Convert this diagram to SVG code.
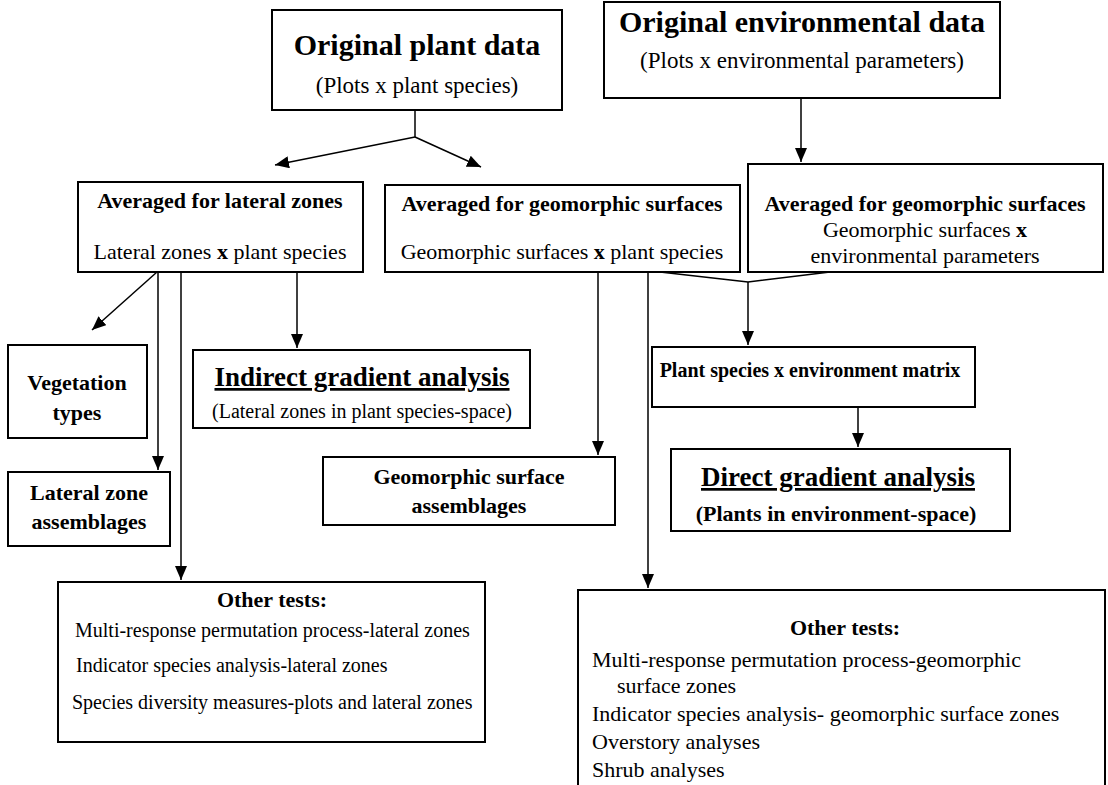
<svg xmlns="http://www.w3.org/2000/svg" width="1108" height="785" viewBox="0 0 1108 785">
<style>
.box{fill:#fff;stroke:#000;stroke-width:2}
text{font-family:"Liberation Serif","Times New Roman",serif;fill:#000}
.t1{font-size:30px;font-weight:bold}
.s1{font-size:23px}
.b{font-size:22px;font-weight:bold}
.r{font-size:22px}
.r2{font-size:20px}
.u{font-size:27px;font-weight:bold;text-decoration:underline}
.c{text-anchor:middle}
.ln{fill:none;stroke:#000;stroke-width:1.5}
</style>
<defs>
<marker id="ah" viewBox="0 0 14 12" refX="14" refY="6" markerWidth="14" markerHeight="12" markerUnits="userSpaceOnUse" orient="auto">
<path d="M0,0 L14,6 L0,12 z" fill="#000"/>
</marker>
</defs>
<rect width="1108" height="785" fill="#fff"/>
<g id="connectors">
<path class="ln" d="M415,110 V137"/>
<path class="ln" d="M415,137 L275,165" marker-end="url(#ah)"/>
<path class="ln" d="M415,137 L481,167" marker-end="url(#ah)"/>
<path class="ln" d="M801,98 V162" marker-end="url(#ah)"/>
<path class="ln" d="M157,272 L92,330" marker-end="url(#ah)"/>
<path class="ln" d="M158,272 V470" marker-end="url(#ah)"/>
<path class="ln" d="M181,272 V580" marker-end="url(#ah)"/>
<path class="ln" d="M297,272 V348" marker-end="url(#ah)"/>
<path class="ln" d="M598,272 V455" marker-end="url(#ah)"/>
<path class="ln" d="M648,272 V588" marker-end="url(#ah)"/>
<path class="ln" d="M660,272 L748,282 L830,272"/>
<path class="ln" d="M748,282 V345" marker-end="url(#ah)"/>
<path class="ln" d="M858,407 V447" marker-end="url(#ah)"/>
</g>
<g id="original-plant">
<rect class="box" x="272" y="10" width="290" height="100"/>
<text class="t1 c" x="417" y="55">Original plant data</text>
<text class="s1 c" x="417" y="93">(Plots x plant species)</text>
</g>
<g id="original-env">
<rect class="box" x="604" y="2" width="396" height="96"/>
<text class="t1 c" x="802" y="32">Original environmental data</text>
<text class="s1 c" x="802" y="68">(Plots x environmental parameters)</text>
</g>
<g id="avg-lateral">
<rect class="box" x="78" y="182" width="285" height="90"/>
<text class="b c" x="220" y="208">Averaged for lateral zones</text>
<text class="r c" x="220" y="259">Lateral zones <tspan font-weight="bold">x</tspan> plant species</text>
</g>
<g id="avg-geo-plant">
<rect class="box" x="385" y="185" width="355" height="87"/>
<text class="b c" x="562" y="211">Averaged for geomorphic surfaces</text>
<text class="r c" x="562" y="259">Geomorphic surfaces <tspan font-weight="bold">x</tspan> plant species</text>
</g>
<g id="avg-geo-env">
<rect class="box" x="748" y="164" width="355" height="108"/>
<text class="b c" x="925" y="211">Averaged for geomorphic surfaces</text>
<text class="r c" x="925" y="237">Geomorphic surfaces <tspan font-weight="bold">x</tspan></text>
<text class="r c" x="925" y="263">environmental parameters</text>
</g>
<g id="vegetation-types">
<rect class="box" x="8" y="345" width="139" height="93"/>
<text class="b c" x="77" y="390">Vegetation</text>
<text class="b c" x="77" y="420">types</text>
</g>
<g id="lateral-zone-assemblages">
<rect class="box" x="8" y="472" width="162" height="74"/>
<text class="b c" x="89" y="500">Lateral zone</text>
<text class="b c" x="89" y="529">assemblages</text>
</g>
<g id="indirect">
<rect class="box" x="193" y="350" width="337" height="78"/>
<text class="u c" x="362" y="386">Indirect gradient analysis</text>
<text class="r2 c" x="362" y="418">(Lateral zones in plant species-space)</text>
</g>
<g id="geo-assemblages">
<rect class="box" x="323" y="457" width="292" height="68"/>
<text class="b c" x="469" y="484">Geomorphic surface</text>
<text class="b c" x="469" y="513">assemblages</text>
</g>
<g id="species-env-matrix">
<rect class="box" x="652" y="347" width="323" height="60"/>
<text class="c" x="810" y="377" font-size="20" font-weight="bold">Plant species x environment matrix</text>
</g>
<g id="direct">
<rect class="box" x="671" y="449" width="339" height="82"/>
<text class="u c" x="838" y="486">Direct gradient analysis</text>
<text class="b c" x="836" y="521">(Plants in environment-space)</text>
</g>
<g id="other-tests-lateral">
<rect class="box" x="58" y="582" width="427" height="160"/>
<text class="b c" x="272" y="607">Other tests:</text>
<text class="r2" x="75" y="637">Multi-response permutation process-lateral zones</text>
<text class="r2" x="76" y="672">Indicator species analysis-lateral zones</text>
<text class="r2" x="72" y="709">Species diversity measures-plots and lateral zones</text>
</g>
<g id="other-tests-geo">
<rect class="box" x="578" y="590" width="527" height="210"/>
<text class="b c" x="845" y="635">Other tests:</text>
<text class="r" x="592" y="667">Multi-response permutation process-geomorphic</text>
<text class="r" x="617" y="693">surface zones</text>
<text class="r" x="592" y="721">Indicator species analysis- geomorphic surface zones</text>
<text class="r" x="592" y="749">Overstory analyses</text>
<text class="r" x="592" y="777">Shrub analyses</text>
</g>
</svg>
